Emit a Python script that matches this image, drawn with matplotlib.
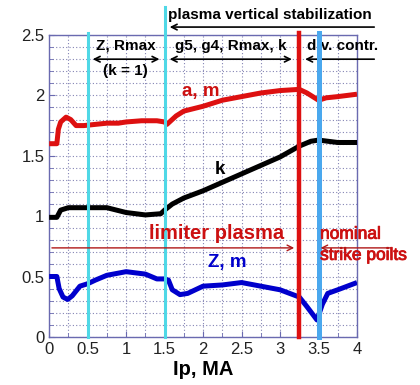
import matplotlib
matplotlib.use("Agg")
import matplotlib.pyplot as plt
import matplotlib.patheffects as pe
from matplotlib.ticker import MultipleLocator

plt.rcParams['font.family'] = ['Liberation Sans', 'DejaVu Sans']

# ---- data ----
a_x = [0, 0.1, 0.12, 0.15, 0.22, 0.28, 0.35, 0.45, 0.6, 0.75, 0.9, 1.0, 1.2, 1.4, 1.5, 1.53,
       1.65, 1.75, 2.0, 2.25, 2.5, 2.75, 3.0, 3.25, 3.35, 3.5, 3.6, 3.75, 4.0]
a_y = [1.6, 1.6, 1.72, 1.78, 1.82, 1.80, 1.75, 1.75, 1.76, 1.77, 1.77, 1.78, 1.79, 1.79, 1.78, 1.76,
       1.83, 1.87, 1.91, 1.96, 1.99, 2.02, 2.04, 2.05, 2.02, 1.96, 1.98, 1.99, 2.01]

k_x = [0, 0.1, 0.15, 0.25, 0.5, 0.75, 1.0, 1.25, 1.45, 1.5, 1.6, 1.75, 2.0, 2.25, 2.5, 2.75,
       3.0, 3.25, 3.4, 3.5, 3.75, 4.0]
k_y = [0.99, 0.99, 1.05, 1.07, 1.07, 1.07, 1.03, 1.01, 1.02, 1.05, 1.10, 1.15, 1.21, 1.28, 1.35, 1.42,
       1.49, 1.58, 1.62, 1.63, 1.61, 1.61]

z_x = [0, 0.1, 0.13, 0.18, 0.24, 0.3, 0.4, 0.5, 0.6, 0.75, 1.0, 1.25, 1.4, 1.5, 1.55, 1.6, 1.7,
       1.8, 2.0, 2.25, 2.5, 2.75, 3.0, 3.25, 3.35, 3.48, 3.55, 3.62, 3.75, 4.0]
z_y = [0.5, 0.5, 0.4, 0.33, 0.31, 0.34, 0.42, 0.44, 0.47, 0.51, 0.54, 0.52, 0.48, 0.48, 0.47, 0.39, 0.35,
       0.36, 0.42, 0.43, 0.45, 0.42, 0.39, 0.33, 0.25, 0.14, 0.27, 0.36, 0.39, 0.45]

x_ticks = [0, 0.5, 1, 1.5, 2, 2.5, 3, 3.5, 4]
x_tick_labels = ['0', '0.5', '1', '1.5', '2', '2.5', '3', '3.5', '4']
y_ticks = [0, 0.5, 1, 1.5, 2, 2.5]
y_tick_labels = ['0', '0.5', '1', '1.5', '2', '2.5']

cyan_x = [0.5, 1.5]
red_x = 3.24
blue_x = 3.5

# ---- figure ----
fig = plt.figure(figsize=(4.2, 3.85), dpi=100)
ax = fig.add_axes([0.117, 0.125, 0.733, 0.784])
ax.set_xlim(0, 4)
ax.set_ylim(0, 2.5)

spine_c = '#6a6ab0'
for s in ax.spines.values():
    s.set_color(spine_c)
    s.set_linewidth(1.0)

ax.xaxis.set_major_locator(MultipleLocator(0.5))
ax.xaxis.set_minor_locator(MultipleLocator(0.25))
ax.yaxis.set_major_locator(MultipleLocator(0.5))
ax.yaxis.set_minor_locator(MultipleLocator(0.1))
ax.set_xticks(x_ticks)
ax.set_xticklabels(x_tick_labels)
ax.set_yticks(y_ticks)
ax.set_yticklabels(y_tick_labels)
ax.tick_params(which='both', direction='in', color=spine_c, labelsize=12,
               labelcolor='#222222', top=False, right=False)
ax.tick_params(which='major', length=4)
ax.tick_params(which='minor', length=3)
ax.grid(which='both', linestyle=(0, (1, 2)), color='#8484b4', linewidth=0.8)
ax.set_axisbelow(True)

# data curves
ax.plot(a_x, a_y, color='#dd1010', lw=3.6, solid_capstyle='butt', zorder=3)
ax.plot(k_x, k_y, color='black', lw=3.6, solid_capstyle='butt', zorder=3)
ax.plot(z_x, z_y, color='#0000cc', lw=3.6, solid_capstyle='butt', zorder=3)

# vertical marker lines
ax.plot([cyan_x[0]] * 2, [0, 2.52], color='#4fd8e6', lw=2.2, clip_on=False, zorder=4)
ax.plot([cyan_x[1]] * 2, [0, 2.73], color='#4fd8e6', lw=2.2, clip_on=False, zorder=4)
ax.plot([red_x] * 2, [0, 2.52], color='#dd1010', lw=3.2, clip_on=False, zorder=5)
ax.plot([blue_x] * 2, [0, 2.52], color='#4aa8ee', lw=3.6, clip_on=False, zorder=5)

# labels on curves
ax.text(1.97, 2.035, 'a, m', color='#cc1010', fontsize=13.5, fontweight='bold', ha='center', va='center', zorder=6)
ax.text(2.22, 1.39, 'k', color='black', fontsize=13.5, fontweight='bold', ha='center', va='center', zorder=6)
ax.text(2.31, 0.62, 'Z, m', color='#0000cc', fontsize=13.5, fontweight='bold', ha='center', va='center', zorder=6)
ax.text(2.18, 0.86, 'limiter plasma', color='#cc1010', fontsize=14.5, fontweight='bold', ha='center', va='center', zorder=6)
thick = [pe.withStroke(linewidth=0.6, foreground='#cc1010')]
ax.text(3.52, 0.85, 'nominal', color='#cc1010', fontsize=12.5, ha='left', va='center', zorder=6,
        clip_on=False, path_effects=thick)
ax.text(3.52, 0.675, 'strike poilts', color='#cc1010', fontsize=12.5, ha='left', va='center', zorder=6,
        clip_on=False, path_effects=thick)

# red arrows
ax.annotate('', xy=(3.22, 0.737), xytext=(0.0, 0.737),
            arrowprops=dict(arrowstyle='->', color='#b01818', lw=1.0), annotation_clip=False, zorder=6)
ax.annotate('', xy=(3.49, 0.737), xytext=(4.47, 0.737),
            arrowprops=dict(arrowstyle='->', color='#b01818', lw=1.0), annotation_clip=False, zorder=6)

# top annotations
tk = dict(fontsize=11, fontweight='bold', color='black', va='center', clip_on=False)
ax.text(1.55, 2.666, 'plasma vertical stabilization', ha='left', **tk)
ax.annotate('', xy=(1.53, 2.566), xytext=(4.26, 2.566),
            arrowprops=dict(arrowstyle='->', color='black', lw=1.2), annotation_clip=False)
ax.text(1.0, 2.41, 'Z, Rmax', ha='center', **tk)
ax.text(0.99, 2.20, '(k = 1)', ha='center', **tk)
ax.text(2.36, 2.41, 'g5, g4, Rmax, k', ha='center', **tk)
ax.text(3.81, 2.41, 'div. contr.', ha='center', **tk)
ax.annotate('', xy=(0.53, 2.30), xytext=(1.47, 2.30),
            arrowprops=dict(arrowstyle='<->', color='black', lw=1.2), annotation_clip=False)
ax.annotate('', xy=(1.53, 2.30), xytext=(3.19, 2.30),
            arrowprops=dict(arrowstyle='<->', color='black', lw=1.2), annotation_clip=False)
ax.annotate('', xy=(3.29, 2.30), xytext=(4.26, 2.30),
            arrowprops=dict(arrowstyle='->', color='black', lw=1.2), annotation_clip=False)

ax.set_xlabel('Ip, MA', fontsize=14.5, fontweight='bold', labelpad=2)

fig.savefig('out.png', dpi=100)
